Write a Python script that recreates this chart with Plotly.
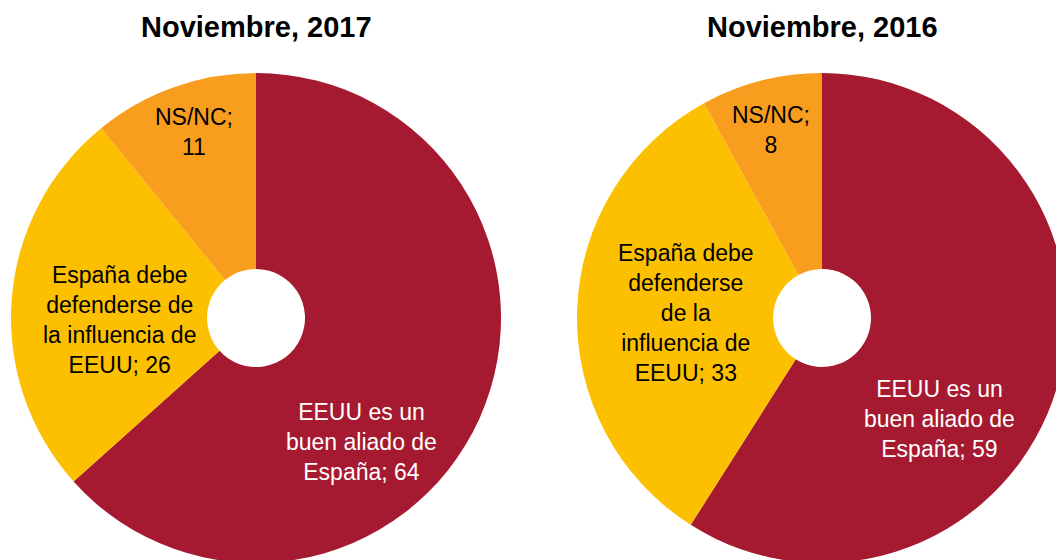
import plotly.graph_objects as go

titles = ["Noviembre, 2017", "Noviembre, 2016"]
categories = ["EEUU es un buen aliado de España",
              "España debe defenderse de la influencia de EEUU",
              "NS/NC"]
values_2017 = [64, 26, 11]
values_2016 = [59, 33, 8]
# label text with line breaks as laid out in each chart
label_lines_2017 = ["EEUU es un<br>buen aliado de<br>España",
                    "España debe<br>defenderse de<br>la influencia de<br>EEUU",
                    "NS/NC"]
label_lines_2016 = ["EEUU es un<br>buen aliado de<br>España",
                    "España debe<br>defenderse<br>de la<br>influencia de<br>EEUU",
                    "NS/NC"]
label_seps = ["; ", "; ", ";<br>"]

colors = ["#A51A30", "#FDC000", "#F99D1F"]
text_colors = ["white", "black", "black"]
FONT = "Liberation Sans, Arial, sans-serif"
LABEL_SIZE = 23

# figure canvas (slightly wider/taller than the window so the pies can be clipped at the edges)
W, H = 1070, 570
R = 245                       # pie radius in px
centers_px = [(256, 318), (822, 318)]
# data-label offsets (px) from the pie centre, as placed in the original
label_offsets = [
    [(105, 124), (-137, 2), (-62, -186)],
    [(117, 101), (-136, -5), (-51, -188)],
]


def texts(lines, vals):
    return [f"{l}{s}{v}" for l, s, v in zip(lines, label_seps, vals)]


fig = go.Figure()
series = [(values_2017, label_lines_2017), (values_2016, label_lines_2016)]
for (vals, lines), (cx, cy), offs, title in zip(series, centers_px, label_offsets, titles):
    dom = dict(x=[(cx - R) / W, (cx + R) / W],
               y=[(H - cy - R) / H, (H - cy + R) / H])
    fig.add_trace(go.Pie(
        labels=categories,
        values=vals,
        textinfo="none",
        marker=dict(colors=colors, line=dict(width=0)),
        hole=0.2,
        sort=False,
        direction="clockwise",
        rotation=0,
        domain=dom,
        showlegend=False,
        hoverinfo="label+value",
    ))
    for txt, (ox, oy), tc in zip(texts(lines, vals), offs, text_colors):
        fig.add_annotation(
            text=txt, x=(cx + ox) / W, y=(H - cy - oy) / H,
            xref="paper", yref="paper", showarrow=False,
            xanchor="center", yanchor="middle", align="center",
            font=dict(family=FONT, size=LABEL_SIZE, color=tc),
        )
    fig.add_annotation(
        text=f"<b>{title}</b>", x=cx / W, y=1 - 27 / H,
        xref="paper", yref="paper", showarrow=False,
        xanchor="center", yanchor="middle",
        font=dict(family=FONT, size=29, color="black"),
    )

fig.update_layout(
    width=W, height=H,
    margin=dict(l=0, r=0, t=0, b=0),
    paper_bgcolor="white",
    plot_bgcolor="white",
    font=dict(family=FONT),
)

fig.write_html(
    "out.html",
    config={"displayModeBar": False},
    post_script="document.body.style.margin='0';document.body.style.overflow='hidden';",
)
